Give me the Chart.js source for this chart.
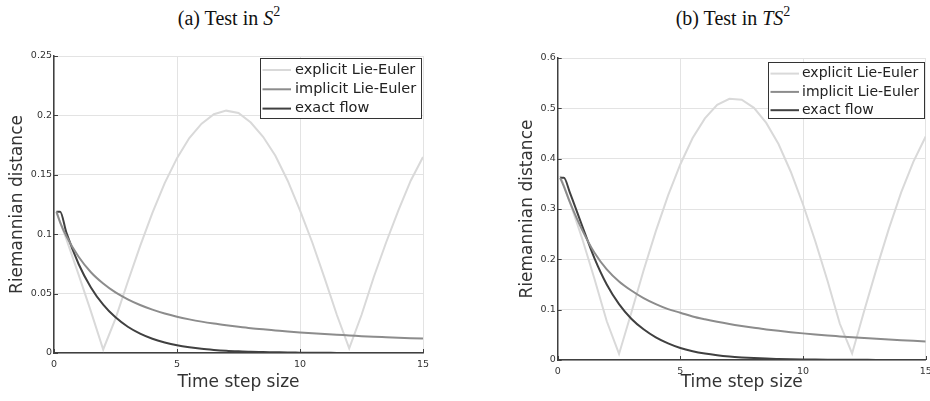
<!DOCTYPE html>
<html>
<head>
<meta charset="utf-8">
<script src="https://cdn.jsdelivr.net/npm/chart.js@4"></script>
<style>
html, body { margin: 0; padding: 0; background: #fff; overflow: hidden; width: 930px; height: 401px; }
.title { position: absolute; top: 8px; font-family: "Liberation Serif", serif; font-size: 20px; line-height: 20px; color: #111; white-space: nowrap; transform: translateX(-50%); }
.title sup { font-size: 14px; line-height: 0; vertical-align: 0; position: relative; top: -9px; }
canvas { position: absolute; top: 0; }
</style>
</head>
<body>
<div class="title" style="left:229px">(a) Test in <i>S</i><sup>2</sup></div>
<div class="title" style="left:733px">(b) Test in <i>TS</i><sup>2</sup></div>
<canvas id="chartA" width="465" height="401" style="left:0"></canvas>
<canvas id="chartB" width="480" height="401" style="left:465px"></canvas>
<script>
const stepSizes = [0.1, 0.25, 0.5, 1, 1.5, 2, 2.5, 3, 3.5, 4, 4.5, 5, 5.5, 6, 6.5, 7, 7.5, 8,
    8.5, 9, 9.5, 10, 10.5, 11, 11.5, 12, 12.5, 13, 13.5, 14, 14.5, 15];

// (a) S^2
const explicitS2 = [0.118, 0.110, 0.096, 0.066, 0.035, 0.003, 0.029, 0.060, 0.090, 0.118, 0.143,
    0.164, 0.181, 0.193, 0.201, 0.204, 0.202, 0.194, 0.182, 0.166, 0.145, 0.120, 0.093, 0.063,
    0.032, 0.004, 0.032, 0.064, 0.093, 0.120, 0.145, 0.165];
const implicitS2 = [0.119, 0.110, 0.0985, 0.081, 0.068, 0.0585, 0.051, 0.0452, 0.0404, 0.0365,
    0.0332, 0.0305, 0.0283, 0.0264, 0.0248, 0.0234, 0.0221, 0.0209, 0.0199, 0.0190, 0.0181,
    0.0173, 0.0166, 0.0159, 0.0153, 0.0148, 0.0142, 0.0137, 0.0133, 0.0129, 0.0125, 0.0121];
const exactS2 = [0.119, 0.119, 0.1016, 0.0749, 0.0552, 0.0407, 0.0300, 0.0221, 0.0163, 0.0120,
    0.0089, 0.0065, 0.0048, 0.0035, 0.0026, 0.0019, 0.0014, 0.0010, 0.0008, 0.0006, 0.0004,
    0.0003, 0.0002, 0.0002, 0.0001, 0.0001, 0.0001, 0.0001, 0, 0, 0, 0];

// (b) TS^2
const explicitTS2 = [0.366, 0.347, 0.313, 0.241, 0.161, 0.077, 0.012, 0.094, 0.178, 0.256, 0.327,
    0.389, 0.441, 0.480, 0.507, 0.519, 0.517, 0.501, 0.471, 0.429, 0.374, 0.309, 0.236, 0.157,
    0.072, 0.013, 0.099, 0.182, 0.261, 0.333, 0.394, 0.444];
const implicitTS2 = [0.362, 0.345, 0.313, 0.258, 0.213, 0.180, 0.156, 0.138, 0.123, 0.111,
    0.101, 0.094, 0.0865, 0.0808, 0.0758, 0.0714, 0.0675, 0.0639, 0.0608, 0.0579, 0.0553,
    0.0529, 0.0507, 0.0487, 0.0469, 0.0451, 0.0435, 0.0420, 0.0406, 0.0393, 0.0381, 0.0370];
const exactTS2 = [0.362, 0.362, 0.332, 0.266, 0.202, 0.150, 0.111, 0.082, 0.061, 0.045, 0.033,
    0.0238, 0.0175, 0.0129, 0.0095, 0.0070, 0.0052, 0.0038, 0.0028, 0.0021, 0.0015, 0.0011,
    0.0008, 0.0006, 0.0005, 0.0004, 0.0003, 0.0002, 0.0002, 0.0001, 0.0001, 0.0001];

const seriesNames = ['explicit Lie-Euler', 'implicit Lie-Euler', 'exact flow'];
const xTicks = [0, 5, 10, 15];
const yTicksS2 = [0, 0.05, 0.1, 0.15, 0.2, 0.25];
const yTicksTS2 = [0, 0.1, 0.2, 0.3, 0.4, 0.5, 0.6];

const lineColors = ['#d9d9d9', '#8c8c8c', '#404040'];
const axisColor = '#404040';
const font = 'DejaVu Sans';

// ticks point inward, like the original plot
const innerTicks = {
    id: 'innerTicks',
    afterDatasetsDraw(chart) {
        const { ctx, chartArea: a, scales: { x, y } } = chart;
        ctx.save();
        ctx.strokeStyle = axisColor;
        ctx.lineWidth = 1;
        ctx.beginPath();
        x.ticks.forEach(t => {
            const px = Math.round(x.getPixelForValue(t.value)) + 0.5;
            ctx.moveTo(px, a.bottom);
            ctx.lineTo(px, a.bottom - 4);
        });
        y.ticks.forEach(t => {
            const py = Math.round(y.getPixelForValue(t.value)) + 0.5;
            ctx.moveTo(a.left, py);
            ctx.lineTo(a.left + 4, py);
        });
        ctx.stroke();
        ctx.restore();
    }
};

// framed legend in the top right corner of the plot
const boxLegend = {
    id: 'boxLegend',
    afterDraw(chart, args, opts) {
        const { ctx, chartArea: a } = chart;
        const sets = chart.data.datasets;
        ctx.save();
        ctx.font = opts.fontSize + 'px "' + font + '"';
        const textW = Math.max(...sets.map(d => ctx.measureText(d.label).width));
        const w = Math.round(opts.textOffset + textW + opts.padRight);
        const right = Math.round(a.right - opts.right);
        const left = right - w;
        const top = Math.round(a.top + opts.top);
        ctx.fillStyle = '#fff';
        ctx.fillRect(left, top, w, opts.height);
        ctx.strokeStyle = '#333';
        ctx.lineWidth = 1;
        ctx.strokeRect(left + 0.5, top + 0.5, w - 1, opts.height - 1);
        sets.forEach((d, i) => {
            const cy = top + opts.firstRow + i * opts.rowHeight;
            ctx.strokeStyle = d.borderColor;
            ctx.lineWidth = d.borderWidth;
            ctx.beginPath();
            ctx.moveTo(left + 2.5, cy);
            ctx.lineTo(left + 31, cy);
            ctx.stroke();
            ctx.fillStyle = '#222';
            ctx.textBaseline = 'middle';
            ctx.fillText(d.label, left + opts.textOffset, cy);
        });
        ctx.restore();
    }
};

function makeDatasets(series) {
    return series.map((vals, i) => ({
        label: seriesNames[i],
        data: stepSizes.map((x, j) => ({ x: x, y: vals[j] })),
        borderColor: lineColors[i],
        borderWidth: 2,
        pointRadius: 0,
        tension: 0,
        cubicInterpolationMode: i === 0 ? 'default' : 'monotone',
        order: [3, 1, 2][i]
    }));
}

function makeChart(id, series, yTicks, lay) {
    new Chart(document.getElementById(id), {
        type: 'line',
        data: { datasets: makeDatasets(series) },
        plugins: [innerTicks, boxLegend],
        options: {
            responsive: false,
            animation: false,
            layout: { padding: lay.padding },
            plugins: {
                legend: { display: false },
                tooltip: { enabled: false },
                boxLegend: lay.legend
            },
            scales: {
                x: {
                    type: 'linear',
                    min: 0,
                    max: 15,
                    afterBuildTicks: s => { s.ticks = xTicks.map(v => ({ value: v })); },
                    afterFit: s => { s.height = lay.xHeight; },
                    grid: { color: '#e3e3e3', drawTicks: false },
                    border: { color: axisColor, width: 1.5 },
                    ticks: {
                        color: '#333', padding: 6, maxRotation: 0,
                        font: { family: font, size: 9.5 },
                        callback: v => String(v)
                    },
                    title: {
                        display: true, text: 'Time step size', color: '#333',
                        font: { family: font, size: 17 },
                        padding: { top: 0, bottom: 7.8 }
                    }
                },
                y: {
                    type: 'linear',
                    min: 0,
                    max: yTicks[yTicks.length - 1],
                    afterBuildTicks: s => { s.ticks = yTicks.map(v => ({ value: v })); },
                    afterFit: s => { s.width = lay.yWidth; },
                    grid: { color: '#e3e3e3', drawTicks: false },
                    border: { color: axisColor, width: 1.5 },
                    ticks: {
                        color: '#333', padding: 2,
                        font: { family: font, size: 9.5 },
                        callback: v => String(v)
                    },
                    title: {
                        display: true, text: 'Riemannian distance', color: '#333',
                        font: { family: font, size: 17 },
                        padding: { top: 7.6, bottom: 0 }
                    }
                }
            }
        }
    });
}

makeChart('chartA', [explicitS2, implicitS2, exactS2], yTicksS2, {
    padding: { left: 0, top: 56, right: 42, bottom: 0 },
    yWidth: 54,
    xHeight: 48,
    legend: { fontSize: 14.5, right: 1, top: 2, firstRow: 12, rowHeight: 19.3, height: 61, textOffset: 35, padRight: 5.5 }
});

makeChart('chartB', [explicitTS2, implicitTS2, exactTS2], yTicksTS2, {
    padding: { left: 45, top: 58, right: 19.3, bottom: 0 },
    yWidth: 47.7,
    xHeight: 41,
    legend: { fontSize: 14, right: 0.7, top: 3.5, firstRow: 11.6, rowHeight: 18.3, height: 57, textOffset: 34, padRight: 6 }
});
</script>
</body>
</html>
